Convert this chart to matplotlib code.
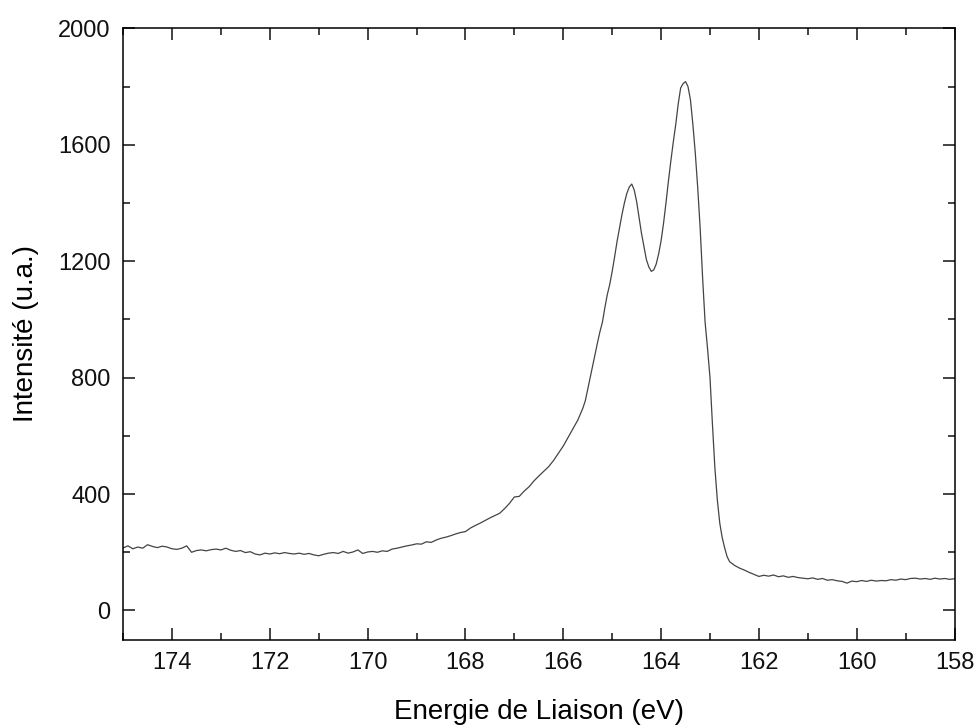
import matplotlib
matplotlib.use("Agg")
import matplotlib.pyplot as plt
from matplotlib.ticker import MultipleLocator

plt.rcParams['font.family'] = ['Liberation Sans', 'DejaVu Sans']

# XPS spectrum (binding energy in eV, intensity in a.u.)
energy_ev = [
    175.0, 174.9, 174.8, 174.7, 174.6, 174.5, 174.4, 174.3, 174.2, 174.1,
    174.0, 173.9, 173.8, 173.7, 173.6, 173.5, 173.4, 173.3, 173.2, 173.1,
    173.0, 172.9, 172.8, 172.7, 172.6, 172.5, 172.4, 172.3, 172.2, 172.1,
    172.0, 171.9, 171.8, 171.7, 171.6, 171.5, 171.4, 171.3, 171.2, 171.1,
    171.0, 170.9, 170.8, 170.7, 170.6, 170.5, 170.4, 170.3, 170.2, 170.1,
    170.0, 169.9, 169.8, 169.7, 169.6, 169.5, 169.4, 169.3, 169.2, 169.1,
    169.0, 168.9, 168.8, 168.7, 168.6, 168.5, 168.4, 168.3, 168.2, 168.1,
    168.0, 167.9, 167.8, 167.7, 167.6, 167.5, 167.4, 167.3, 167.2, 167.1,
    167.0, 166.9, 166.8, 166.7, 166.6, 166.5, 166.4, 166.3, 166.2, 166.1,
    166.0, 165.9, 165.8, 165.7, 165.6, 165.55, 165.5, 165.45, 165.4, 165.35,
    165.3, 165.25, 165.2, 165.15, 165.1, 165.05, 165.0, 164.95, 164.9, 164.85,
    164.8, 164.75, 164.7, 164.65, 164.6, 164.55, 164.5, 164.45, 164.4, 164.35,
    164.3, 164.25, 164.2, 164.15, 164.1, 164.05, 164.0, 163.95, 163.9, 163.85,
    163.8, 163.75, 163.7, 163.65, 163.6, 163.55, 163.5, 163.45, 163.4, 163.35,
    163.3, 163.25, 163.2, 163.15, 163.1, 163.05, 163.0, 162.95, 162.9, 162.85,
    162.8, 162.75, 162.7, 162.65, 162.6, 162.5, 162.4, 162.3, 162.2, 162.1,
    162.0, 161.9, 161.8, 161.7, 161.6, 161.5, 161.4, 161.3, 161.2, 161.1,
    161.0, 160.9, 160.8, 160.7, 160.6, 160.5, 160.4, 160.3, 160.2, 160.1,
    160.0, 159.9, 159.8, 159.7, 159.6, 159.5, 159.4, 159.3, 159.2, 159.1,
    159.0, 158.9, 158.8, 158.7, 158.6, 158.5, 158.4, 158.3, 158.2, 158.1,
    158.0,
]
intensity = [
    215, 222, 212, 218, 214, 226, 220, 216, 221, 218,
    212, 210, 214, 222, 200, 206, 208, 205, 209, 211,
    208, 214, 207, 203, 206, 199, 202, 194, 191, 197,
    194, 198, 195, 199, 196, 194, 197, 193, 196, 191,
    188, 193, 197, 199, 196, 203, 197, 201, 208, 196,
    201, 203, 200, 205, 203, 211, 214, 218, 222, 225,
    229, 228, 236, 234, 242, 248, 252, 257, 263, 268,
    271, 283, 292, 300, 309, 318, 326, 334, 350, 368,
    390, 392, 410, 425, 445, 462, 478, 494, 515, 540,
    565, 595, 625, 655, 695, 720, 760, 800, 840, 880,
    920, 958, 990, 1040, 1085, 1120, 1165, 1215, 1268, 1315,
    1360, 1400, 1433, 1455, 1465, 1445, 1405, 1350, 1295, 1250,
    1205, 1180, 1165, 1170, 1190, 1225, 1270, 1330, 1400, 1475,
    1545, 1610, 1670, 1740, 1795, 1810, 1817, 1800, 1755, 1670,
    1570, 1450, 1310, 1140, 990, 900, 800, 640, 490, 380,
    300, 250, 215, 185, 168, 155, 146, 139, 131, 124,
    117, 121, 118, 122, 116, 119, 114, 117, 113, 111,
    109, 112, 107, 110, 104, 106, 102, 100, 94, 101,
    99, 103, 100, 104, 101, 103, 102, 106, 104, 108,
    106, 110, 111, 108, 110, 107, 111, 108, 110, 107,
    109,
]

fig = plt.figure(figsize=(9.77, 7.26), dpi=100)
ax = fig.add_axes([0.126, 0.119, 0.851, 0.842])

ax.plot(energy_ev, intensity, color='#444444', linewidth=0.9)

ax.set_xlim(175, 158)
ax.set_ylim(-100, 2000)
ax.xaxis.set_major_locator(MultipleLocator(2))
ax.xaxis.set_minor_locator(MultipleLocator(1))
ax.yaxis.set_major_locator(MultipleLocator(400))
ax.yaxis.set_minor_locator(MultipleLocator(200))

ax.tick_params(which='both', direction='in', top=True, right=True,
               width=1.1, labelsize=17, pad=9, colors='#111111')
ax.tick_params(which='major', length=8.5)
ax.tick_params(which='minor', length=5)
for spine in ax.spines.values():
    spine.set_linewidth(1.1)

ax.set_xlabel('Energie de Liaison (eV)', fontsize=20, labelpad=18)
ax.set_ylabel('Intensité (u.a.)', fontsize=20, labelpad=14)

plt.savefig('out.png', dpi=100)
